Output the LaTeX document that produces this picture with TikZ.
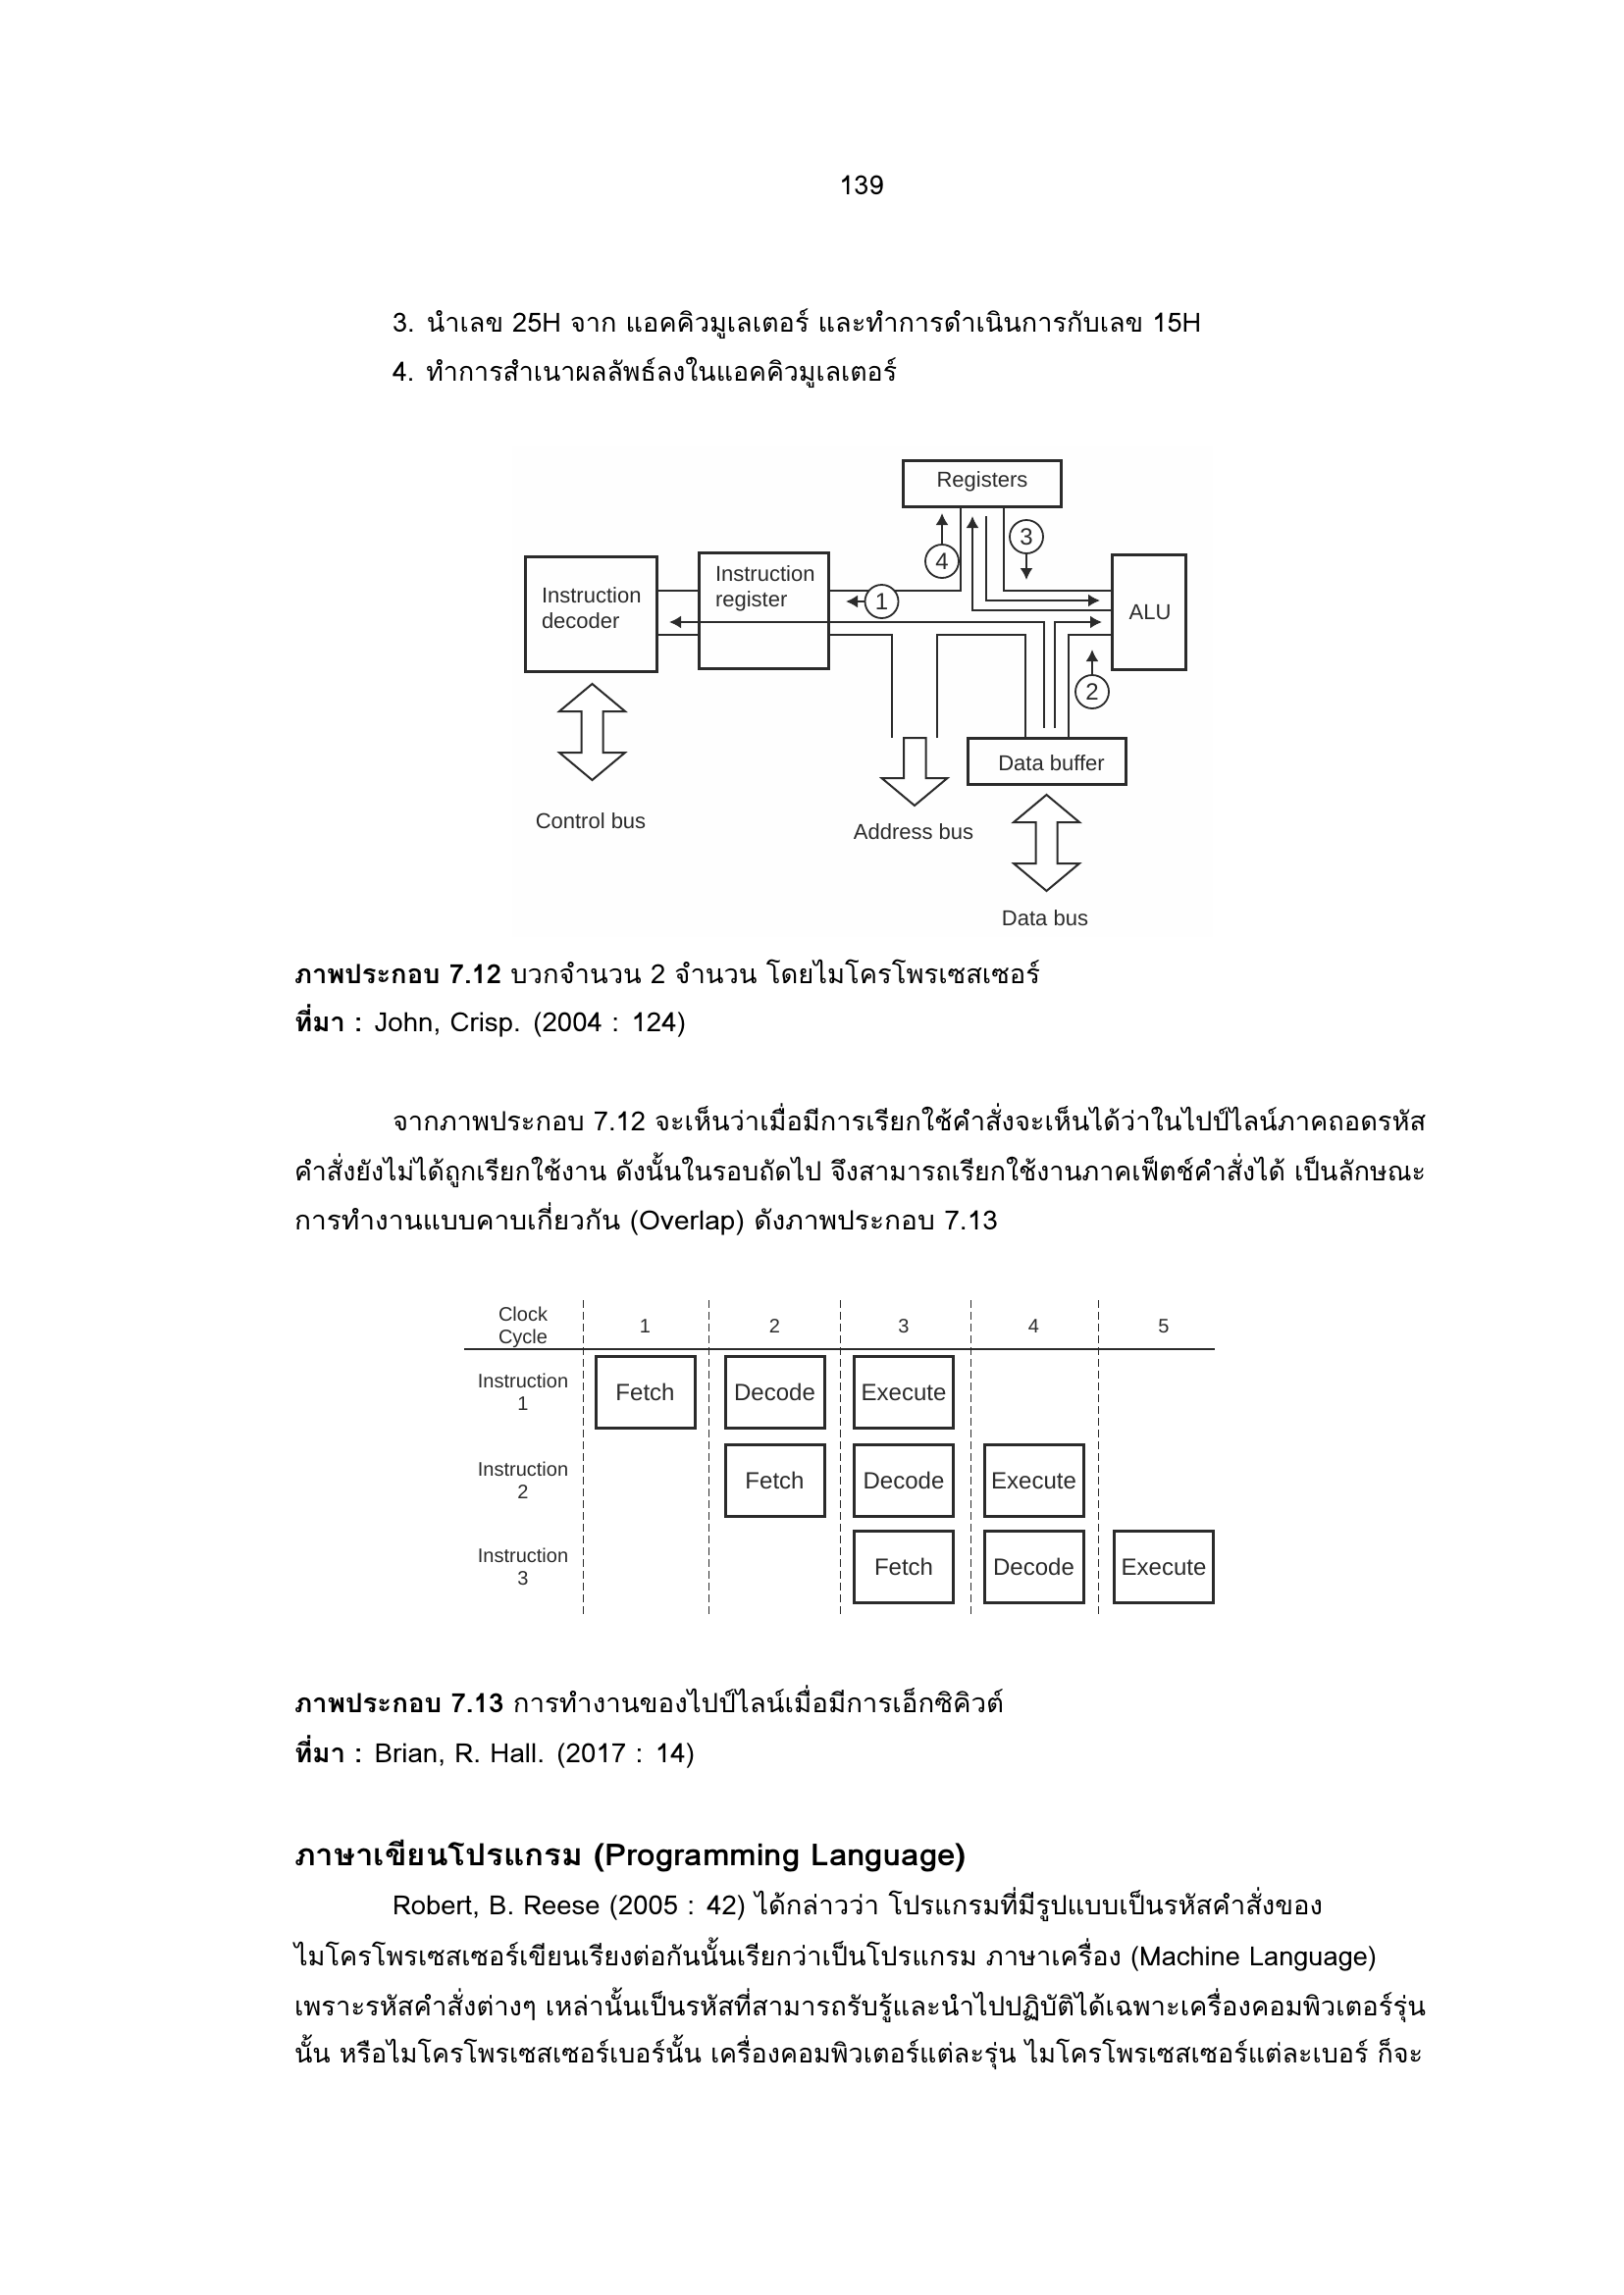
\documentclass[tikz,border=0pt]{standalone}
\usepackage{graphicx}
\usepackage{fontspec}
\setmainfont[Script=Thai]{Loma}
\newfontfamily\figfont{Liberation Sans}
\usetikzlibrary{arrows.meta}
\newcommand{\fitline}[2]{\resizebox{#1pt}{\height}{#2}}
\definecolor{ink}{HTML}{2B2B2B}
\definecolor{scanwhite}{HTML}{FEFEFE}
\tikzset{
  txt/.style={anchor=base west,inner sep=0pt,outer sep=0pt,font=\fontsize{27}{30}\selectfont},
  bigbox/.style={draw=ink,line width=3pt,inner sep=0pt,outer sep=0pt},
  bus/.style={draw=ink,line width=2pt},
  tip/.style={-{Latex[length=12pt,width=13pt]}},
  fat/.style={draw=ink,line width=2pt,fill=white,line join=miter},
  num/.style={circle,draw=ink,line width=1.8pt,minimum size=34pt,inner sep=0pt,outer sep=0pt,fill=white,font=\figfont\fontsize{24}{24}\selectfont,text=ink},
  lbl/.style={inner sep=0pt,outer sep=0pt,font=\figfont\fontsize{22}{26}\selectfont,text=ink},
  smalllbl/.style={inner sep=0pt,outer sep=0pt,font=\figfont\fontsize{20}{23}\selectfont,text=ink,align=center},
  stage/.style={draw=ink,line width=3pt,inner sep=0pt,outer sep=0pt,minimum width=101pt,minimum height=73pt,font=\figfont\fontsize{24}{24}\selectfont,text=ink},
}
\begin{document}
\begin{tikzpicture}[x=1pt,y=-1pt]
\useasboundingbox (0,0) rectangle (1654,2339);
\fill[white] (0,0) rectangle (1654,2339);
\fill[scanwhite] (522,455) rectangle (1236,955);

% page text
\node[anchor=base,inner sep=0pt,font=\fontsize{27}{30}\selectfont] (pageno) at (878,198) {139};
\node[txt] (l1) at (400,338) {\fitline{824}{3. นำเลข 25H จาก แอคคิวมูเลเตอร์ และทำการดำเนินการกับเลข 15H}};
\node[txt] (l2) at (400,388) {\fitline{514}{4. ทำการสำเนาผลลัพธ์ลงในแอคคิวมูเลเตอร์}};
\node[txt] (cap1) at (300,1002) {\fitline{760}{\textbf{ภาพประกอบ 7.12} บวกจำนวน 2 จำนวน โดยไมโครโพรเซสเซอร์}};
\node[txt] (src1) at (300,1051) {\fitline{399}{\textbf{ที่มา :} John, Crisp. (2004 : 124)}};
\node[txt] (p1) at (400,1152) {\fitline{1053}{จากภาพประกอบ 7.12 จะเห็นว่าเมื่อมีการเรียกใช้คำสั่งจะเห็นได้ว่าในไปป์ไลน์ภาคถอดรหัส}};
\node[txt] (p2) at (300,1203) {\fitline{1153}{คำสั่งยังไม่ได้ถูกเรียกใช้งาน ดังนั้นในรอบถัดไป จึงสามารถเรียกใช้งานภาคเฟ็ตช์คำสั่งได้ เป็นลักษณะ}};
\node[txt] (p3) at (300,1253) {\fitline{717}{การทำงานแบบคาบเกี่ยวกัน (Overlap) ดังภาพประกอบ 7.13}};
\node[txt] (cap2) at (300,1745) {\fitline{723}{\textbf{ภาพประกอบ 7.13} การทำงานของไปป์ไลน์เมื่อมีการเอ็กซิคิวต์}};
\node[txt] (src2) at (300,1796) {\fitline{408}{\textbf{ที่มา :} Brian, R. Hall. (2017 : 14)}};
\node[txt,font=\fontsize{31}{34}\selectfont\bfseries] (head) at (300,1901) {\fitline{685}{ภาษาเขียนโปรแกรม (Programming Language)}};
\node[txt] (q1) at (400,1951) {\fitline{948}{Robert, B. Reese (2005 : 42) ได้กล่าวว่า โปรแกรมที่มีรูปแบบเป็นรหัสคำสั่งของ}};
\node[txt] (q2) at (300,2003) {\fitline{1103}{ไมโครโพรเซสเซอร์เขียนเรียงต่อกันนั้นเรียกว่าเป็นโปรแกรม ภาษาเครื่อง (Machine Language)}};
\node[txt] (q3) at (300,2054) {\fitline{1153}{เพราะรหัสคำสั่งต่างๆ เหล่านั้นเป็นรหัสที่สามารถรับรู้และนำไปปฏิบัติได้เฉพาะเครื่องคอมพิวเตอร์รุ่น}};
\node[txt] (q4) at (300,2102) {\fitline{1150}{นั้น หรือไมโครโพรเซสเซอร์เบอร์นั้น เครื่องคอมพิวเตอร์แต่ละรุ่น ไมโครโพรเซสเซอร์แต่ละเบอร์ ก็จะ}};

% processor blocks
\node[bigbox,minimum width=134pt,minimum height=117pt] (decoder) at (602,625.5) {};
\node[bigbox,minimum width=132pt,minimum height=118pt] (register) at (778,622) {};
\node[bigbox,minimum width=161pt,minimum height=47pt] (registers) at (1000.5,492.5) {};
\node[bigbox,minimum width=75pt,minimum height=117pt] (alu) at (1170.5,623.5) {};
\node[bigbox,minimum width=161pt,minimum height=47pt] (buffer) at (1066.5,775.5) {};
\node[lbl,anchor=west,align=left] (decodertxt) at (552,620) {Instruction\\decoder};
\node[lbl,anchor=west,align=left] (registertxt) at (729,600) {Instruction\\register};
\node[lbl] (registerstxt) at (1001,491) {Registers};
\node[lbl] (alutxt) at (1172,624) {ALU};
\node[lbl] (buffertxt) at (1071.5,778) {Data buffer};
\node[lbl] (controltxt) at (602,837) {Control bus};
\node[lbl] (addresstxt) at (931,848) {Address bus};
\node[lbl] (datatxt) at (1065,936) {Data bus};

% free ends of the bus lines
\coordinate (upa) at (1005,526);
\coordinate (upb) at (991,526);
\coordinate (adra) at (909,752);
\coordinate (adrb) at (955,752);
\coordinate (dbla) at (1064,742);
\coordinate (dblb) at (1075,742);
\coordinate (farl) at (682,634);
\coordinate (farr) at (1123,634);

\draw[bus] (decoder.east |- 0,602) -- (register.west |- 0,602);
\draw[bus] (decoder.east |- 0,647) -- (register.west |- 0,647);
\draw[bus] (register.east |- 0,602) -- (978.5,602) -- (978.5,516);
\draw[bus] (1023,516) -- (1023,602) -- (alu.west |- 0,602);
\draw[bus,tip] (upa) -- (1005,612) -- (1121,612);
\draw[bus,tip] (alu.west |- 0,622) -- (991,622) -- (upb);
\draw[bus,{Latex[length=12pt,width=13pt]}-] (farl) -- (1064,634) -- (dbla);
\draw[bus,tip] (dblb) -- (1075,634) -- (farr);
\draw[bus] (register.east |- 0,647) -- (909,647) -- (adra);
\draw[bus] (adrb) -- (955,647) -- (1044.5,647) -- (1044.5,752);
\draw[bus] (1089,752) -- (1089,647) -- (alu.west |- 0,647);

% numbered steps
\node[num] (one) at (898.5,613) {1};
\node[num] (two) at (1113,705) {2};
\node[num] (three) at (1046,547) {3};
\node[num] (four) at (960,572) {4};
\coordinate (onetip) at (862,613);
\coordinate (twotip) at (1113,662);
\coordinate (threetip) at (1046,591);
\coordinate (fourtip) at (960,523);
\draw[bus,tip] (one) -- (onetip);
\draw[bus,tip] (two) -- (twotip);
\draw[bus,tip] (three) -- (threetip);
\draw[bus,tip] (four) -- (fourtip);

% outline arrows
\foreach\cx/\ty in {603.5/697,1066.5/810}
\draw[fat] (\cx,\ty) -- ++(33.5,28) -- ++(-22.5,0) -- ++(0,42) -- ++(22.5,0) -- ++(-33.5,28) -- ++(-33.5,-28) -- ++(22.5,0) -- ++(0,-42) -- ++(-22.5,0) -- cycle;
\draw[fat] (921,752) -- (943.5,752) -- (943.5,793) -- (965.5,793) -- (932,821) -- (898.5,793) -- (921,793) -- cycle;

% pipeline table
\foreach\x in {594.5,722.5,856.5,989.5,1119.5}
\draw[ink,line width=1.8pt,dash pattern=on 8pt off 4pt] (\x,1325) -- (\x,1647);
\coordinate (ruleleft) at (473,1375);
\coordinate (ruleright) at (1238,1375);
\draw[ink,line width=2.2pt] (ruleleft) -- (ruleright);
\foreach\col/\xc in {1/657.5,2/789.5,3/921,4/1053.5,5/1186}
\node[smalllbl] (clock\col) at (\xc,1352) {\col};
\node[smalllbl] (clocktxt) at (533,1352.5) {Clock\\Cycle};
\foreach\row/\yc in {1/1419,2/1509,3/1597}
\node[smalllbl] (instr\row) at (533,\yc) {Instruction\\\row};
\foreach\xc/\yc/\word in {657.5/1419/Fetch,789.5/1419/Decode,921/1419/Execute,
  789.5/1509/Fetch,921/1509/Decode,1053.5/1509/Execute,
  921/1597/Fetch,1053.5/1597/Decode,1186/1597/Execute}
\node[stage] (s\xc-\yc) at (\xc,\yc) {\word};
\end{tikzpicture}
\end{document}
